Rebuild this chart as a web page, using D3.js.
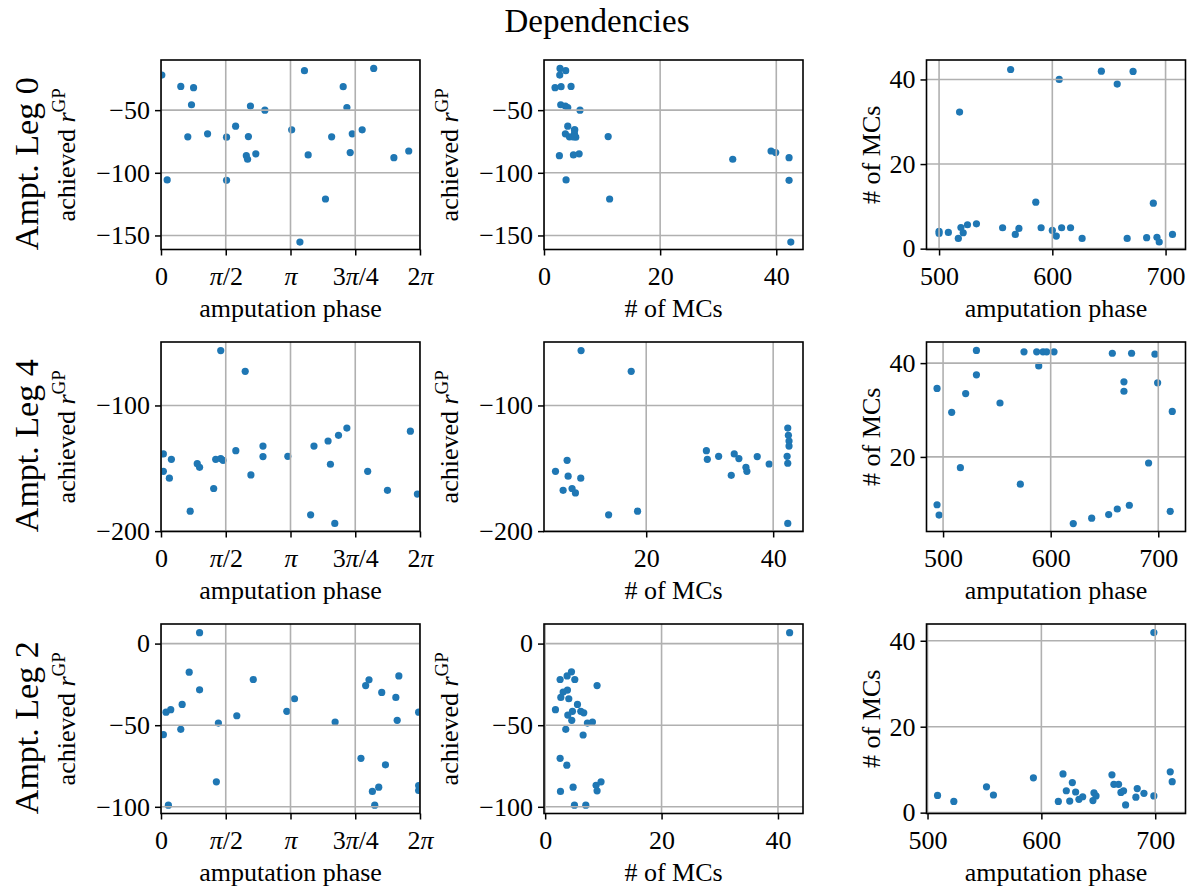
<!DOCTYPE html>
<html>
<head>
<meta charset="utf-8">
<script src="https://cdn.jsdelivr.net/npm/d3@7"></script>
<style>
  html, body { margin: 0; padding: 0; background: #fff; }
  svg { display: block; }
  text { font-family: "Liberation Serif", "DejaVu Serif", serif; fill: #000; }
</style>
</head>
<body>
<svg id="chart" width="1192" height="886"></svg>
<script>
// ---------------- data ----------------
const title = "Dependencies";
const rowLabels = ["Ampt. Leg 0", "Ampt. Leg 4", "Ampt. Leg 2"];
const phaseTicks = [0, Math.PI / 2, Math.PI, 3 * Math.PI / 2, 2 * Math.PI];
const phaseTickLabels = ["0", "π/2", "π", "3π/4", "2π"];

// Leg 0
const leg0Phase = [0.02,0.48,0.79,0.74,2.17,2.52,1.81,0.65,1.13,1.59,2.12,3.17,4.14,4.64,4.88,2.07,2.10,2.30,3.57,4.59,5.65,0.15,1.59,3.99,3.37,3.48,5.16,4.42,4.51,6.01];
const leg0Reward = [-22.0,-31.1,-32.1,-45.7,-46.8,-50.0,-62.8,-71.3,-68.9,-71.6,-71.1,-65.7,-71.3,-68.9,-65.7,-86.3,-89.2,-84.9,-85.7,-83.9,-87.9,-105.7,-106.0,-120.9,-155.3,-18.5,-16.7,-31.3,-47.9,-82.6];
const leg0Mcs = [2.71,4.66,1.9,2.88,3.68,6.2,4.09,4.38,3.68,5.47,11.05,5.24,5.0,5.24,5.3,2.65,32.5,6.05,5.07,39.9,42.2,3.8,42.2,11.3,42.5,3.74,2.76,2.94,4.09,39.1];
const leg0Step = [500,500,508.2,517,519.3,521.3,525.1,533.0,518.1,556.1,563.2,567.3,570.5,585.4,590.1,600,603.5,606.1,608.2,616.1,626.3,643.3,657.3,666.1,671.3,683.3,689.2,692.4,694.4,706.1];
const leg0StepMcs = [4.1,3.6,3.84,2.43,5.0,3.76,5.65,5.88,32.3,4.94,42.35,3.37,4.78,10.98,4.94,4.31,2.98,40.0,4.94,4.94,2.43,41.96,38.9,2.43,41.9,2.59,10.75,2.67,1.57,3.37];

// Leg 4
const leg4Phase = [1.449,2.043,0.057,0.252,0.057,0.203,0.879,0.936,0.708,1.278,1.327,1.449,1.506,1.815,2.181,2.474,2.474,3.077,3.711,3.63,4.053,4.11,4.216,4.306,4.509,5.014,5.494,6.05,6.22];
const leg4Reward = [-56.3,-72.8,-138.6,-142.9,-152.4,-157.9,-146.3,-149.2,-184.1,-166.1,-142.9,-142.3,-143.7,-136,-155.3,-132.3,-140.7,-140.5,-132.3,-187,-128.3,-146.8,-193.9,-123.8,-118,-152.4,-167.5,-120.5,-170.5];
const leg4Mcs = [9.74,17.64,7.54,5.71,7.7,9.69,6.91,8.32,8.85,14.08,18.64,29.48,29.63,31.41,33.87,34.6,35.71,35.86,33.4,37.49,39.37,42.3,42.4,42.5,42.5,42.2,42.3,42.3];
const leg4McsReward = [-56.3,-72.8,-143.7,-152.4,-156.3,-157.9,-167.5,-166.1,-169.6,-187,-184.1,-136,-142.9,-140.5,-138.6,-142.3,-149.2,-152.4,-155.6,-140.7,-146.6,-118,-123.8,-128.3,-132.3,-140.5,-146,-193.9];
const leg4Step = [531,575.2,587,592.9,596.3,603.1,657.3,675.2,696.9,588.9,531,494.4,521,552.9,508,668.1,668.1,699.4,713,691,516.1,571.8,494.4,496.3,621,638.1,653.9,661.9,673.1,711.1];
const leg4StepMcs = [42.7,42.4,42.4,42.4,42.4,42.4,42.1,42.1,41.9,39.4,37.5,34.6,33.5,31.5,29.5,36,34,35.8,29.7,18.7,17.7,14.2,9.8,7.6,5.8,6.95,7.7,8.9,9.7,8.4];

// Leg 2
const leg2Phase = [0.936,0.684,0.936,0.122,0.236,0.513,0.48,0.057,1.392,1.343,0.179,1.839,2.238,3.052,3.239,4.224,4.965,5.046,5.355,5.697,5.77,5.73,4.851,5.445,5.282,5.128,5.185,6.25,6.25,6.25];
const leg2Reward = [6.7,-17.5,-28.3,-42,-40.5,-37.3,-52.5,-55.8,-48.7,-84.7,-99,-44.2,-22,-41.5,-33.8,-48.1,-25.7,-22.2,-29.9,-33,-19.8,-47,-70.3,-74.3,-88,-90.6,-99,-42,-87,-90];
const leg2Mcs = [4.52,3.77,2.57,5.09,8.92,3.83,3.09,2.69,4.06,5.55,1.77,4.69,6.12,6.63,3.89,4.57,7.26,8.12,3.54,6.52,2.57,3.72,4.8,2.63,8.75,9.6,8.92,5.03,6.98,42.0];
const leg2McsReward = [-17.3,-19.8,-22,-22,-25.7,-28.5,-29.7,-33,-33.8,-37.3,-40.5,-41.5,-41.5,-42.4,-43.8,-47,-48.7,-48.1,-52.5,-56,-70.3,-74.5,-88,-90.6,-86.8,-84.7,-90.2,-99,-99,6.7];
const leg2Step = [508.8,523.1,551.8,557.9,593,619,627.2,621.9,630.1,614.9,624.9,633,636.3,646.2,648,645.3,662,663.7,667.8,669.9,672.2,674,684.2,683,690.1,698.8,698.8,713.2,714.9];
const leg2StepMcs = [4.0,2.6,6.0,4.1,8.1,9.0,7.0,5.1,4.8,2.6,2.7,3.1,3.7,4.6,3.9,2.8,8.8,6.6,6.6,4.7,5.1,1.8,5.6,3.6,4.5,3.9,41.9,9.5,7.2];

// ---------------- layout ----------------
const colLeft = [161, 544, 926.5];
const colW = 259;
const rowTop = [60, 342, 624];
const rowH = 189.5;
const dotColor = "#1f77b4";
const tickFont = 26, labelFont = 26, titleFont = 33, rowFont = 34;

const panels = [
  {r:0,c:0,x:leg0Phase,y:leg0Reward,xd:[0,2*Math.PI],yd:[-161.2,-10],xt:phaseTicks,xtl:phaseTickLabels,yt:[-150,-100,-50],xlab:"amputation phase",ylab:"reward"},
  {r:0,c:1,x:leg0Mcs,y:leg0Reward,xd:[0,44.6],yd:[-161.2,-10],xt:[0,20,40],yt:[-150,-100,-50],xlab:"# of MCs",ylab:"reward"},
  {r:0,c:2,x:leg0Step,y:leg0StepMcs,xd:[488.9,717.6],yd:[-0.2,44.6],xt:[500,600,700],yt:[0,20,40],xlab:"amputation phase",ylab:"mcs"},
  {r:1,c:0,x:leg4Phase,y:leg4Reward,xd:[0,2*Math.PI],yd:[-200.3,-49.5],xt:phaseTicks,xtl:phaseTickLabels,yt:[-200,-100],xlab:"amputation phase",ylab:"reward"},
  {r:1,c:1,x:leg4Mcs,y:leg4McsReward,xd:[3.9,44.7],yd:[-200.3,-49.5],xt:[20,40],yt:[-200,-100],xlab:"# of MCs",ylab:"reward"},
  {r:1,c:2,x:leg4Step,y:leg4StepMcs,xd:[484.6,725.3],yd:[4.1,44.5],xt:[500,600,700],yt:[20,40],xlab:"amputation phase",ylab:"mcs"},
  {r:2,c:0,x:leg2Phase,y:leg2Reward,xd:[0,2*Math.PI],yd:[-104.1,12],xt:phaseTicks,xtl:phaseTickLabels,yt:[-100,-50,0],xlab:"amputation phase",ylab:"reward"},
  {r:2,c:1,x:leg2Mcs,y:leg2McsReward,xd:[-0.2,44.3],yd:[-104.1,12],xt:[0,20,40],yt:[-100,-50,0],xlab:"# of MCs",ylab:"reward"},
  {r:2,c:2,x:leg2Step,y:leg2StepMcs,xd:[499.1,726.6],yd:[-0.2,43.9],xt:[500,600,700],yt:[0,20,40],xlab:"amputation phase",ylab:"mcs"}
];

const svg = d3.select("#chart");
svg.append("rect").attr("width",1192).attr("height",886).attr("fill","#fff");

svg.append("text").attr("x", 597).attr("y", 32).attr("text-anchor","middle")
  .attr("font-size", titleFont).text(title);

const fmt = d3.format("d");

function setPiText(sel, label) {
  sel.text(null);
  const parts = label.split("π");
  parts.forEach((p, i) => {
    if (p) sel.append("tspan").text(p);
    if (i < parts.length - 1) sel.append("tspan").attr("font-style","italic").text("π");
  });
}

panels.forEach((p, i) => {
  const x0 = colLeft[p.c], y0 = rowTop[p.r];
  const g = svg.append("g").attr("transform", `translate(${x0},${y0})`);
  const xs = d3.scaleLinear().domain(p.xd).range([0, colW]);
  const ys = d3.scaleLinear().domain(p.yd).range([rowH, 0]);

  const clipId = "clip" + i;
  g.append("clipPath").attr("id", clipId).append("rect")
    .attr("width", colW).attr("height", rowH);

  // points
  const pts = p.x.map((v, k) => [v, p.y[k]]);
  g.append("g").attr("clip-path", `url(#${clipId})`)
    .selectAll("circle").data(pts).join("circle")
    .attr("cx", d => xs(d[0])).attr("cy", d => ys(d[1]))
    .attr("r", 3.6).attr("fill", dotColor);

  // grid (matplotlib draws grid above scatter by default)
  const grid = g.append("g").attr("clip-path", `url(#${clipId})`);
  grid.selectAll(".gx").data(p.xt).join("line")
    .attr("x1", d => xs(d)).attr("x2", d => xs(d)).attr("y1", 0).attr("y2", rowH)
    .attr("stroke", "#b0b0b0").attr("stroke-width", 1.6);
  grid.selectAll(".gy").data(p.yt).join("line")
    .attr("y1", d => ys(d)).attr("y2", d => ys(d)).attr("x1", 0).attr("x2", colW)
    .attr("stroke", "#b0b0b0").attr("stroke-width", 1.6);

  // axes
  const xAxis = d3.axisBottom(xs).tickValues(p.xt).tickSizeOuter(0).tickSize(6).tickPadding(6)
    .tickFormat((d, k) => p.xtl ? p.xtl[k] : fmt(d));
  const yAxis = d3.axisLeft(ys).tickValues(p.yt).tickSizeOuter(0).tickSize(6).tickPadding(5)
    .tickFormat(d => fmt(d));

  const gx = g.append("g").attr("transform", `translate(0,${rowH})`).call(xAxis);
  const gy = g.append("g").call(yAxis);
  [gx, gy].forEach(a => {
    a.select(".domain").remove();
    a.selectAll(".tick line").attr("stroke", "#000").attr("stroke-width", 1.5);
    a.selectAll(".tick text").attr("font-family", "Liberation Serif, serif").attr("font-size", tickFont).attr("fill", "#000");
  });
  gx.selectAll(".tick text").attr("y", 35).attr("dy", null).each(function(d, k) {
    if (p.xtl) setPiText(d3.select(this), p.xtl[k]);
  });

  // frame
  g.append("rect").attr("width", colW).attr("height", rowH)
    .attr("fill", "none").attr("stroke", "#000").attr("stroke-width", 1.6);

  // x label
  g.append("text").attr("x", colW / 2).attr("y", rowH + 67).attr("text-anchor", "middle")
    .attr("font-size", labelFont).text(p.xlab);

  // y label
  const cy = rowH / 2;
  if (p.ylab === "reward") {
    const t = g.append("text").attr("text-anchor", "middle")
      .attr("transform", `translate(${-86},${cy}) rotate(-90)`).attr("font-size", labelFont);
    t.append("tspan").text("achieved ");
    t.append("tspan").attr("font-style", "italic").text("r");
    t.append("tspan").attr("font-size", 19).attr("dy", -10).text("GP");
  } else {
    g.append("text").attr("text-anchor", "middle")
      .attr("transform", `translate(${-47},${cy}) rotate(-90)`).attr("font-size", labelFont)
      .text("# of MCs");
  }

  // row label
  if (p.c === 0) {
    g.append("text").attr("text-anchor", "middle")
      .attr("transform", `translate(${38 - x0},${cy + 9}) rotate(-90)`).attr("font-size", rowFont)
      .text(rowLabels[p.r]);
  }
});
</script>
</body>
</html>
